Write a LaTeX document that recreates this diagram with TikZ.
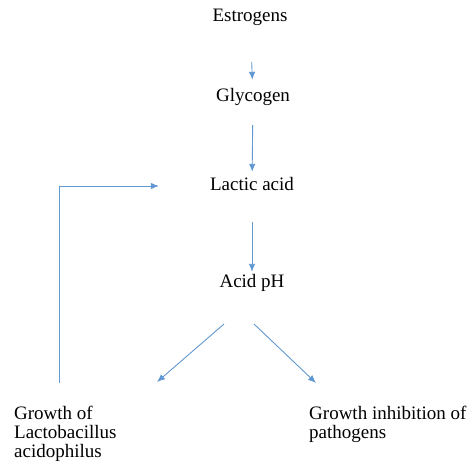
\documentclass[tikz,border=0pt]{standalone}
\usepackage{fontspec}
\setmainfont{Liberation Serif}
\usetikzlibrary{positioning, arrows.meta}
\definecolor{flowblue}{RGB}{98,152,210}

\begin{document}
\begin{tikzpicture}[x=1pt,y=1pt,
        txt/.style={font=\fontsize{19}{19}\selectfont, inner sep=0pt},
        line/.style={txt, text height=12pt, text depth=4pt},
        flow/.style={draw=flowblue, line width=0.9pt, -{Latex[length=8pt,width=6.5pt]}}]
        \useasboundingbox (0,0) rectangle (470,-461);

        \node[line](est) at (250,-17){Estrogens};
        \node[line](gly) at (253,-97){Glycogen};
        \node[line](lac) at (252,-186){Lactic acid};
        \node[line](ph) at (252,-283){Acid pH};
        \node[txt, align=left, anchor=north west](lacto) at (14,-406){Growth of\\Lactobacillus\\acidophilus};
        \node[txt, align=left, anchor=north west](inhib) at (309,-406){Growth inhibition of\\pathogens};

        \coordinate (splitL) at (224,-324);
        \coordinate (splitR) at (254,-324);
        \coordinate (tipL) at (157,-382);
        \coordinate (tipR) at (316,-383);

        \draw[flow, shorten <=37pt, shorten >=9pt] (est) -- (gly);
        \draw[flow, shorten <=20pt, shorten >=6pt] (gly) -- (lac);
        \draw[flow, shorten <=28pt, shorten >=3pt] (lac) -- (ph);
        \draw[flow] (splitL) -- (tipL);
        \draw[flow] (splitR) -- (tipR);
        \draw[flow, shorten <=23pt, shorten >=51pt] ([xshift=45pt]lacto.north west) |- (lac.west);
\end{tikzpicture}
\end{document}
